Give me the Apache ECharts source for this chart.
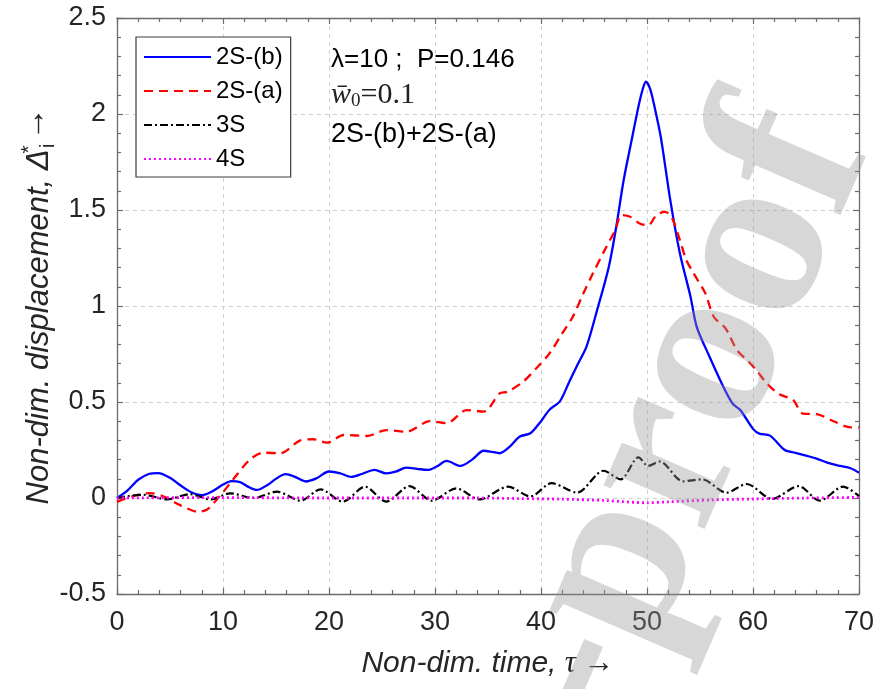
<!DOCTYPE html>
<html><head><meta charset="utf-8">
<script src="https://cdn.jsdelivr.net/npm/echarts/dist/echarts.min.js"></script>
<style>html,body{margin:0;padding:0;background:#fff}#c{width:879px;height:689px}</style>
</head><body><div id="c"></div>
<script>
const xTicks = [0, 10, 20, 30, 40, 50, 60, 70];
const yTicks = [-0.5, 0, 0.5, 1, 1.5, 2, 2.5];
const seriesNames = ['2S-(b)', '2S-(a)', '3S', '4S'];

const data2Sb = [[0,0],[1,0.04],[2,0.095],[3,0.125],[3.9,0.13],[5,0.105],[6,0.065],[7,0.03],[8,0.015],[9,0.035],[10,0.07],[10.8,0.088],[11.6,0.083],[12.4,0.058],[13.2,0.042],[14.2,0.068],[15,0.1],[15.9,0.124],[16.8,0.11],[17.8,0.086],[18.8,0.102],[20,0.138],[21,0.13],[22.1,0.11],[23.1,0.125],[24.3,0.147],[25.4,0.128],[26.3,0.137],[27.3,0.158],[28.3,0.152],[29.3,0.146],[30.2,0.165],[31.1,0.193],[32.4,0.167],[33.5,0.2],[34.6,0.246],[35.4,0.24],[36.1,0.233],[37,0.265],[38,0.32],[39,0.337],[40,0.4],[40.8,0.46],[41.8,0.505],[42.7,0.61],[43.5,0.7],[44.3,0.79],[45.3,0.98],[46.4,1.205],[47.1,1.413],[47.8,1.656],[48.5,1.85],[49.2,2.04],[49.6,2.13],[49.9,2.168],[50.3,2.13],[50.7,2.04],[51.3,1.88],[52.2,1.55],[53.1,1.275],[54.1,1.05],[54.7,0.89],[55.9,0.736],[57.2,0.58],[58.1,0.49],[58.8,0.458],[60,0.36],[60.6,0.335],[61.6,0.325],[63,0.25],[64,0.235],[65.1,0.219],[66,0.205],[67,0.184],[68.2,0.167],[69.2,0.155],[70,0.132]];

const data2Sa = [[0,-0.02],[1.5,0.01],[3.1,0.025],[4.4,0.008],[5.9,-0.036],[7.7,-0.072],[8.5,-0.06],[9.1,-0.028],[10,0.03],[11,0.1],[12.5,0.198],[13.8,0.236],[15.4,0.233],[17.3,0.3],[18.5,0.306],[19.8,0.288],[21.4,0.328],[23.6,0.323],[25.4,0.354],[27.3,0.345],[29.5,0.4],[31.1,0.39],[33,0.458],[34.6,0.45],[36.1,0.545],[36.8,0.553],[38.3,0.605],[39.7,0.684],[40.8,0.753],[42,0.857],[43,0.944],[44,1.066],[44.9,1.17],[46,1.29],[47,1.396],[47.6,1.474],[48.4,1.465],[49.3,1.43],[50.1,1.42],[50.9,1.474],[51.7,1.49],[52.3,1.465],[53.1,1.344],[53.7,1.24],[54.4,1.17],[55.5,1.066],[56.3,0.944],[57.4,0.884],[58.5,0.77],[59.6,0.71],[60.3,0.667],[61.3,0.597],[62.5,0.54],[63.8,0.51],[64.7,0.44],[66,0.437],[67.6,0.4],[69.2,0.368],[70,0.368]];

const data3S = [[0,0],[1,0.01],[2.5,0.017],[4.7,-0.007],[6.9,0.02],[8.8,-0.007],[10.7,0.024],[12.9,0],[15.1,0.033],[17.3,-0.014],[19.2,0.045],[21.3,-0.019],[23.4,0.059],[25.4,-0.019],[27.6,0.062],[29.7,-0.014],[32,0.05],[34.2,-0.007],[36.9,0.059],[39,0.008],[41,0.077],[43.4,0.028],[45.9,0.142],[47.5,0.097],[49.2,0.212],[50.1,0.167],[51.2,0.19],[53.4,0.087],[55.2,0.097],[57.5,0.028],[59.4,0.073],[61.8,-0.005],[64.3,0.062],[66.3,-0.014],[68.5,0.059],[70,0.01]];

const data4S = [[0,0],[10,0.002],[20,0],[30,0],[34,0],[38,-0.003],[42,-0.006],[46,-0.013],[50,-0.025],[52,-0.02],[56,-0.01],[60,-0.005],[65,0],[70,0.003]];

const SANS = '"Liberation Sans", Arial, Helvetica, sans-serif';
const SERIF = '"Liberation Serif", "Times New Roman", serif';
const axisCol = '#6b6b6b';
const labCol = '#262626';

function axisX(pos, showLabel) {
  return {
    type: 'value', position: pos, min: xTicks[0], max: xTicks[xTicks.length-1],
    interval: xTicks[1]-xTicks[0],
    axisLine: {show: true, onZero: false, lineStyle: {color: axisCol, width: 1.3}},
    axisTick: {show: true, inside: true, length: 6, lineStyle: {color: axisCol, width: 1.2}},
    minorTick: {show: true, splitNumber: 5, length: 4, lineStyle: {color: axisCol, width: 1.2}},
    splitLine: {show: showLabel, lineStyle: {color: '#cfcfcf', type: [4, 4], width: 1}},
    axisLabel: {show: showLabel, fontSize: 27, color: labCol, fontFamily: SANS, margin: 15},
  };
}
function axisY(pos, showLabel) {
  return {
    type: 'value', position: pos, min: yTicks[0], max: yTicks[yTicks.length-1],
    interval: yTicks[1]-yTicks[0],
    axisLine: {show: true, onZero: false, lineStyle: {color: axisCol, width: 1.3}},
    axisTick: {show: true, inside: true, length: 6, lineStyle: {color: axisCol, width: 1.2}},
    minorTick: {show: true, splitNumber: 5, length: 4, lineStyle: {color: axisCol, width: 1.2}},
    splitLine: {show: showLabel, lineStyle: {color: '#cfcfcf', type: [4, 4], width: 1}},
    axisLabel: {show: showLabel, fontSize: 27, color: labCol, fontFamily: SANS, margin: 11},
  };
}

const xb = axisX('bottom', true);
xb.name = '{a|Non-dim. time, }{b|τ}{c| →}';
xb.nameLocation = 'middle';
xb.nameGap = 54;
xb.nameTextStyle = {rich: {
  a: {fontSize: 30, fontStyle: 'italic', fontFamily: SANS, color: labCol},
  b: {fontSize: 31, fontStyle: 'italic', fontFamily: SERIF, color: labCol},
  c: {fontSize: 31, fontFamily: SERIF, color: labCol}
}};
const yl = axisY('left', true);
yl.name = '{a|Non-dim. displacement, Δ}{s|*}{i|i}{b|→}';
yl.nameLocation = 'middle';
yl.nameRotate = 90;
yl.nameGap = 58;
yl.nameMoveOverlap = false;
yl.nameTextStyle = {rich: {
  a: {fontSize: 31, fontStyle: 'italic', fontFamily: SANS, color: labCol, lineHeight: 40},
  s: {fontSize: 21, fontFamily: SANS, color: labCol, verticalAlign: 'top', width: 0.1, lineHeight: 40},
  i: {fontSize: 21, fontFamily: SANS, color: labCol, verticalAlign: 'bottom', lineHeight: 40, padding: [0, 3, 0, 1]},
  b: {fontSize: 33, fontFamily: SERIF, color: labCol, lineHeight: 40, padding: [0, 0, 8, 0]}
}};

const chart = echarts.init(document.getElementById('c'), null, {renderer: 'canvas'});
const styles = [
  {color: '#0000ff', type: 'solid', width: 2.3},
  {color: '#ff0000', type: [9, 6], width: 2.3},
  {color: '#000000', type: [8, 3, 2, 3], width: 2.2},
  {color: '#ff00ff', type: [2, 3], width: 2.8},
];
const datas = [data2Sb, data2Sa, data3S, data4S];
chart.setOption({
  animation: false,
  backgroundColor: '#ffffff',
  grid: {left: 117, top: 18, width: 742, height: 576, containLabel: false},
  xAxis: [xb, axisX('top', false)],
  yAxis: [yl, axisY('right', false)],
  legend: {
    orient: 'vertical', left: 136, top: 37,
    backgroundColor: '#ffffff', borderColor: '#3c3c3c', borderWidth: 1.2,
    padding: [8, 8, 6, 7], itemGap: 10, itemWidth: 67, itemHeight: 14,
    itemStyle: {opacity: 0, color: 'rgba(0,0,0,0)', borderWidth: 0},
    textStyle: {fontSize: 24, fontFamily: SANS, color: '#000', lineHeight: 24},
    data: seriesNames.map(n => ({name: n}))
  },
  series: seriesNames.map((n, i) => ({
    name: n, type: 'line', data: datas[i], symbol: 'none', showSymbol: false,
    smooth: 0.3, lineStyle: styles[i], itemStyle: {color: styles[i].color},
    xAxisIndex: 0, yAxisIndex: 0, z: 2 + i
  })),
  graphic: [
    {type: 'text', left: 331, top: 47, z: 50, style: {text: 'λ=10 ;  P=0.146', fontSize: 26, fontFamily: SANS, fill: '#000'}},
    {type: 'text', left: 331, top: 80, z: 50, style: {
      text: '{w|w\u0304}{s|0}{e|=0.1}',
      rich: {
        w: {fontSize: 30, fontStyle: 'italic', fontFamily: SERIF, fill: '#222', lineHeight: 32},
        s: {fontSize: 19, fontFamily: SERIF, fill: '#222', verticalAlign: 'bottom', lineHeight: 32},
        e: {fontSize: 30, fontFamily: SERIF, fill: '#222', lineHeight: 32}
      }}},
    {type: 'text', left: 331, top: 121, z: 50, style: {text: '2S-(b)+2S-(a)', fontSize: 27, fontFamily: SANS, fill: '#000'}},
    {type: 'text', x: 813, y: 123, rotation: 1.162, z: 100, silent: true, style: {
      text: 'Journal Pre-proof', fontSize: 240, fontWeight: 'bold', fontFamily: SERIF,
      fill: 'rgba(150,150,150,0.38)', align: 'right', verticalAlign: 'middle'}}
  ]
});
</script></body></html>
